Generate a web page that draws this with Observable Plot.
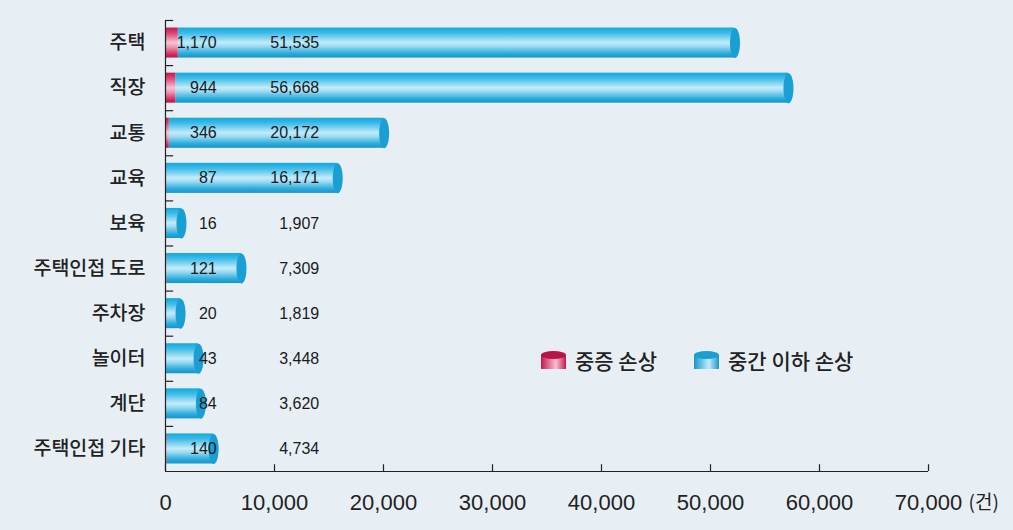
<!DOCTYPE html>
<html>
<head>
<meta charset="utf-8">
<script src="https://cdn.jsdelivr.net/npm/d3@7"></script>
<script src="https://cdn.jsdelivr.net/npm/@observablehq/plot@0.6"></script>
<style>
  html, body { margin: 0; padding: 0; background: #e7eff5; }
  #wrap { position: relative; width: 1013px; height: 530px; overflow: hidden; }
  #legend { position: absolute; left: 541px; top: 345px; display: flex; align-items: center;
            font-family: "Noto Sans CJK KR", sans-serif; font-size: 21px; color: #222; font-weight: 500; }
  #legend .item { display: flex; align-items: center; }
  #legend svg { display: block; margin-right: 9px; }
</style>
</head>
<body>
<div id="wrap">
  <div id="chart"></div>
  <div id="legend"></div>
</div>
<script>
// ---- data ----
const categories = ["주택", "직장", "교통", "교육", "보육", "주택인접 도로", "주차장", "놀이터", "계단", "주택인접 기타"];
const serious = [1170, 944, 346, 87, 16, 121, 20, 43, 84, 140];        // 중증 손상
const moderate = [51535, 56668, 20172, 16171, 1907, 7309, 1819, 3448, 3620, 4734]; // 중간 이하 손상
const xTicks = [0, 10000, 20000, 30000, 40000, 50000, 60000, 70000];
const seriesNames = ["중증 손상", "중간 이하 손상"];
const unitLabel = "(건)";

const rows = categories.map((c, i) => ({i, c, s: serious[i], m: moderate[i], t: serious[i] + moderate[i]}));
const fmt = d3.format(",");

// ellipse symbol for the cylinder end caps
const capSymbol = {
  draw(ctx) {
    const rx = 5, ry = 15, k = 0.5523;
    ctx.moveTo(rx, 0);
    ctx.bezierCurveTo(rx, ry * k, rx * k, ry, 0, ry);
    ctx.bezierCurveTo(-rx * k, ry, -rx, ry * k, -rx, 0);
    ctx.bezierCurveTo(-rx, -ry * k, -rx * k, -ry, 0, -ry);
    ctx.bezierCurveTo(rx * k, -ry, rx, -ry * k, rx, 0);
    ctx.closePath();
  }
};

const half = 0.333;
const chart = Plot.plot({
  width: 1013,
  height: 530,
  marginLeft: 165,
  marginRight: 85,
  marginTop: 20,
  marginBottom: 59,
  style: {background: "#e7eff5", fontFamily: "'Liberation Sans', Arial, sans-serif", color: "#222"},
  x: {domain: [0, 70000], label: null},
  y: {type: "linear", domain: [-0.5, 9.5], reverse: true, label: null},
  marks: [
    // bars
    Plot.rect(rows, {x1: "s", x2: "t", y1: d => d.i - half, y2: d => d.i + half, insetRight: 5, fill: "url(#gBlue)"}),
    Plot.rect(rows, {x1: 0, x2: "s", y1: d => d.i - half, y2: d => d.i + half, fill: "url(#gRed)"}),
    Plot.dot(rows, {x: "t", y: "i", dx: -5, symbol: capSymbol, fill: "#1a9fd4", stroke: null}),
    // axes lines and ticks
    Plot.ruleX([0], {y1: -0.5, y2: 9.5, stroke: "#222", strokeWidth: 1.2}),
    Plot.ruleY([9.5], {x1: 0, x2: 70000, stroke: "#222", strokeWidth: 1.2}),
    Plot.ruleY(rows, {y: d => d.i - 0.5, x1: 0, x2: 750, stroke: "#222", strokeWidth: 1.2}),
    Plot.ruleX(xTicks, {x: d => d, y1: 9.5, y2: 9.35, stroke: "#222", strokeWidth: 1.2}),
    Plot.axisY({ticks: d3.range(categories.length), tickFormat: i => categories[i], tickSize: 0, tickPadding: 20,
                fontSize: 19.5, fontWeight: 500, fontFamily: "'Noto Sans CJK KR', sans-serif", fill: "#222", label: null}),
    Plot.axisX({ticks: xTicks, tickFormat: d => fmt(d), tickSize: 0, tickPadding: 23, fontSize: 22, fill: "#222", label: null}),
    Plot.text([unitLabel], {x: () => 70000, y: () => 9.5, dx: 40, dy: 31, textAnchor: "start", fontSize: 19,
                fontFamily: "'Noto Sans CJK KR', sans-serif", fill: "#222"}),
    // value labels
    Plot.text(rows, {x: () => 4700, y: "i", text: d => fmt(d.s), textAnchor: "end", fontSize: 16, fill: "#1a1a1a"}),
    Plot.text(rows, {x: () => 14100, y: "i", text: d => fmt(d.m), textAnchor: "end", fontSize: 16, fill: "#1a1a1a"})
  ]
});

d3.select(chart).insert("defs", ":first-child").html(`
  <linearGradient id="gBlue" x1="0" y1="0" x2="0" y2="1">
    <stop offset="0" stop-color="#12a8de"/>
    <stop offset="0.18" stop-color="#3bbbe8"/>
    <stop offset="0.5" stop-color="#c4ebf9"/>
    <stop offset="0.62" stop-color="#9fdcf3"/>
    <stop offset="0.85" stop-color="#2faedd"/>
    <stop offset="1" stop-color="#1494c8"/>
  </linearGradient>
  <linearGradient id="gRed" x1="0" y1="0" x2="0" y2="1">
    <stop offset="0" stop-color="#c8164d"/>
    <stop offset="0.2" stop-color="#dc4a76"/>
    <stop offset="0.5" stop-color="#f6c2d2"/>
    <stop offset="0.65" stop-color="#ec97b1"/>
    <stop offset="0.88" stop-color="#d22f62"/>
    <stop offset="1" stop-color="#b8134a"/>
  </linearGradient>`);
document.getElementById("chart").appendChild(chart);

// legend
const legendColors = [
  {dark: "#c8164d", light: "#f6c2d2", top: "#b8134a"},
  {dark: "#1596cb", light: "#c4ebf9", top: "#1a9fd4"}
];
const legend = d3.select("#legend");
seriesNames.forEach((name, k) => {
  const c = legendColors[k];
  const item = legend.append("div").attr("class", "item").style("margin-right", k === 0 ? "37px" : "0");
  const s = item.append("svg").attr("width", 25).attr("height", 20);
  const g = s.append("defs").append("linearGradient").attr("id", "lg" + k).attr("x1", 0).attr("x2", 1).attr("y1", 0).attr("y2", 0);
  g.append("stop").attr("offset", 0).attr("stop-color", c.dark);
  g.append("stop").attr("offset", 0.6).attr("stop-color", c.light);
  g.append("stop").attr("offset", 1).attr("stop-color", c.dark);
  s.append("rect").attr("x", 0).attr("y", 5).attr("width", 25).attr("height", 14).attr("fill", `url(#lg${k})`);
  s.append("ellipse").attr("cx", 12.5).attr("cy", 5).attr("rx", 12.5).attr("ry", 4).attr("fill", c.top);
  item.append("span").text(name);
});
</script>
</body>
</html>
